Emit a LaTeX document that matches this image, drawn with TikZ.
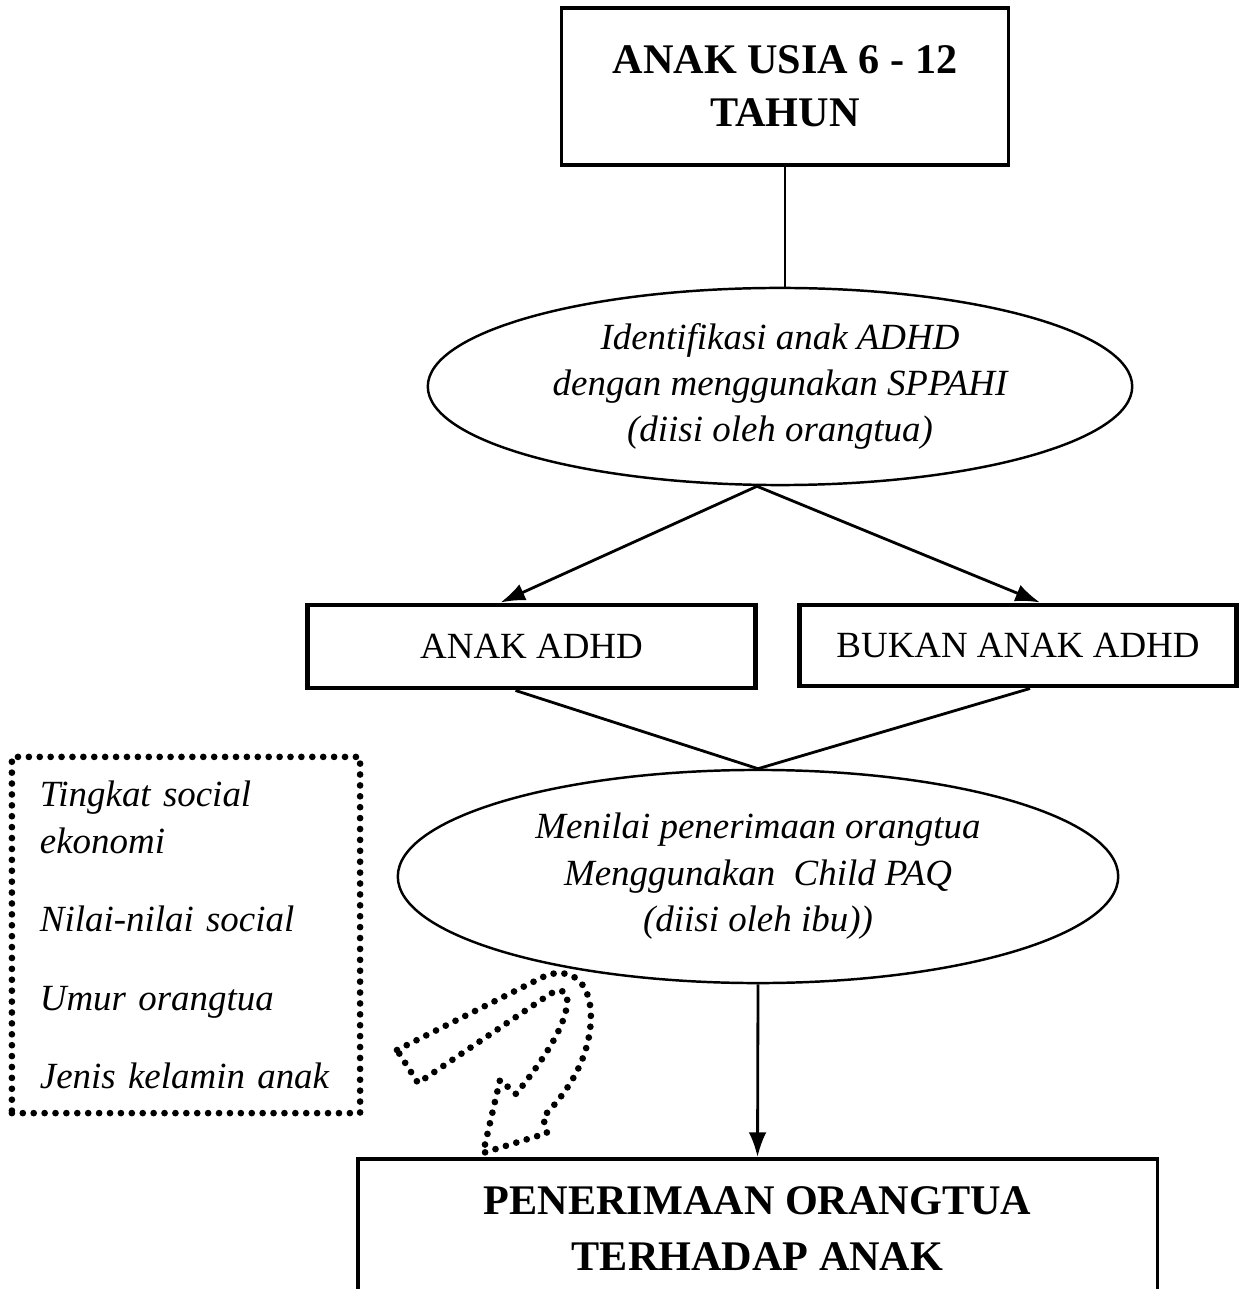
\documentclass[tikz,border=0pt]{standalone}
\usepackage{fontspec}
\setmainfont{Liberation Serif}
\usetikzlibrary{shapes.geometric,arrows.meta}

\begin{document}
\begin{tikzpicture}[x=0.01cm,y=-0.01cm,
    box/.style={draw,line width=1.4pt,inner sep=0pt,font=\fontsize{10.5}{12.6}\selectfont},
    oval/.style={draw,ellipse,line width=0.7pt,inner sep=0pt,align=center,font=\fontsize{10.5}{13.2}\selectfont\itshape},
    link/.style={line width=0.8pt},
    dots/.style={line width=1.9pt,dash pattern=on 0pt off 3.1pt,line cap=round}]
    \useasboundingbox (0,0) rectangle (1239,1289);
    \clip (0,0) rectangle (1239,1289);
    \node[draw,line width=0.9pt,minimum width=4.46cm,minimum height=1.57cm,align=center,
        font=\fontsize{12}{15}\selectfont\bfseries] (usia) at (785,86.5) {ANAK USIA 6 - 12\\TAHUN};
    \node[oval,minimum width=7.04cm,minimum height=1.97cm] (ident) at (780,386.5)
        {Identifikasi anak ADHD\\dengan menggunakan SPPAHI\\(diisi oleh orangtua)};
    \node[box,minimum width=4.47cm,minimum height=0.83cm] (adhd) at (531.5,646.5) {ANAK ADHD};
    \node[box,minimum width=4.36cm,minimum height=0.81cm] (bukan) at (1018,645.5) {BUKAN ANAK ADHD};
    \node[oval,minimum width=7.2cm,minimum height=2.13cm] (nilai) at (758,876.5)
        {Menilai penerimaan orangtua\\Menggunakan~ Child PAQ\\(diisi oleh ibu))};
    \node[draw,line width=1pt,anchor=north,minimum width=7.99cm,minimum height=1.4cm,align=center,
        font=\fontsize{12}{16}\selectfont\bfseries] (terima) at (757.5,1157) {PENERIMAAN ORANGTUA\\TERHADAP ANAK};
    \node[dots,draw,minimum width=3.48cm,minimum height=3.56cm,inner xsep=0.28cm,text width=2.92cm,align=left,
        font=\fontsize{10.5}{13.3}\selectfont\itshape] (faktor) at (186,935)
        {Tingkat social\\ekonomi\\[9pt]Nilai-nilai social\\[9pt]Umur orangtua\\[9pt]Jenis kelamin anak};
    \draw[link] (usia.south) -- (usia.south |- ident.north);
    \draw[link,-{Latex[length=7pt,width=5pt]}] ([xshift=-0.23cm]ident.south) -- ([xshift=-0.31cm]adhd.north);
    \draw[link,-{Latex[length=7pt,width=5pt]}] ([xshift=-0.23cm]ident.south) -- ([xshift=0.22cm]bukan.north);
    \draw[link] ([xshift=-0.16cm]adhd.south) -- (nilai.north);
    \draw[link] ([xshift=0.12cm]bukan.south) -- (nilai.north);
    \draw[link,-{Latex[length=7pt,width=5pt]}] (nilai.south) -- (terima.north);
    \draw[dots] (397,1050) -- (547,975) .. controls (578,966) and (595,990) .. (590,1030)
        .. controls (585,1068) and (562,1098) .. (543,1117) -- (547,1133) -- (483,1153)
        -- (500,1080) -- (516,1094) .. controls (545,1058) and (570,1020) .. (567,996)
        .. controls (564,988) and (556,990) .. (550,994) -- (418,1083) -- cycle;
\end{tikzpicture}
\end{document}
